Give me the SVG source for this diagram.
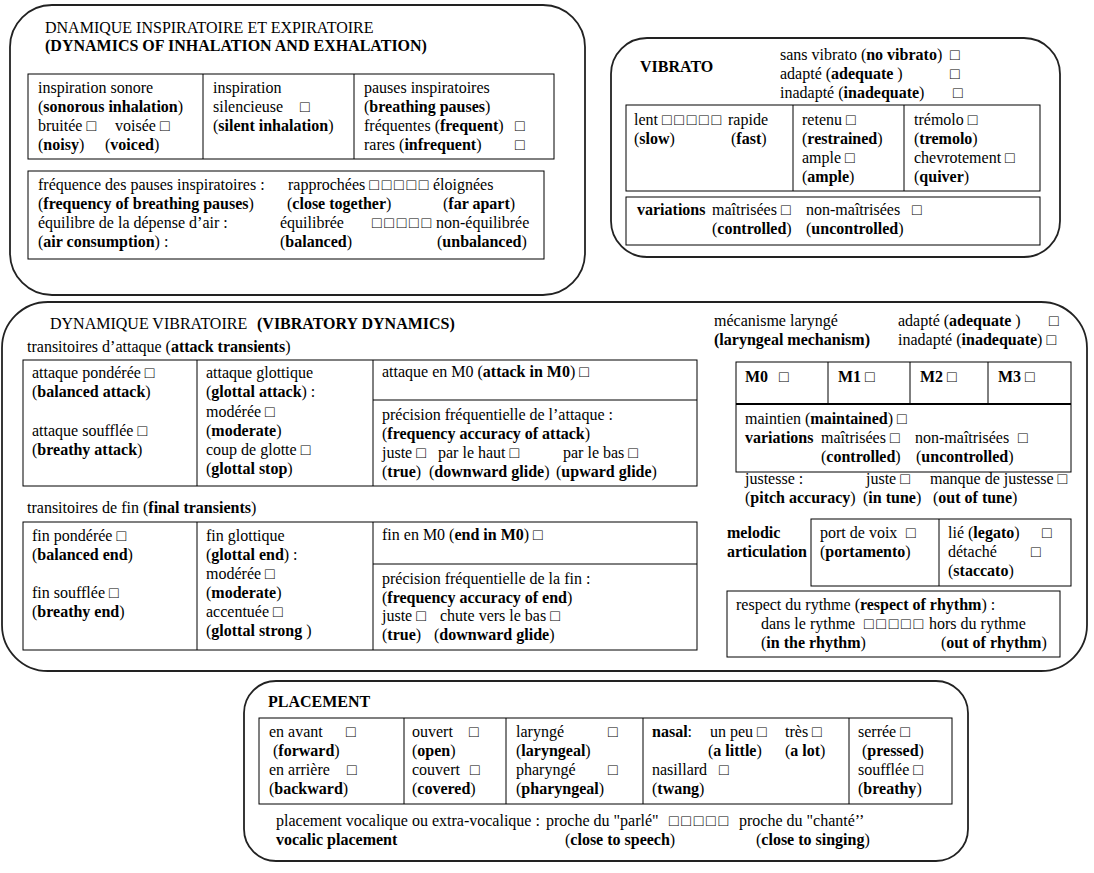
<svg xmlns="http://www.w3.org/2000/svg" width="1094" height="873" viewBox="0 0 1094 873">
<style>
text{font-family:"Liberation Serif","Times New Roman",serif;font-size:16px;fill:#000}
.b{font-weight:bold}
.cb{font-weight:normal;letter-spacing:2.7px}
.panel{fill:#fff;stroke:#222;stroke-width:1.8}
.cell{fill:none;stroke:#000;stroke-width:1}
</style>
<rect width="1094" height="873" fill="#fff"/>

<g id="inhalation">
<rect class="panel" x="10" y="5" width="575" height="290" rx="42" ry="42"/>
<text x="45" y="33">DNAMIQUE INSPIRATOIRE ET EXPIRATOIRE</text>
<text x="45" y="51" class="b">(DYNAMICS OF INHALATION AND EXHALATION)</text>
<rect class="cell" x="28" y="74" width="526" height="85"/>
<line class="cell" x1="203" y1="74" x2="203" y2="159"/>
<line class="cell" x1="354" y1="74" x2="354" y2="159"/>
<text x="38" y="93">inspiration sonore</text>
<text x="38" y="112">(<tspan class="b">sonorous inhalation</tspan>)</text>
<text x="38" y="131">bruitée <tspan class="cb">□</tspan><tspan x="115">voisée </tspan><tspan class="cb">□</tspan></text>
<text x="38" y="150">(<tspan class="b">noisy</tspan>)<tspan x="105">(</tspan><tspan class="b">voiced</tspan>)</text>
<text x="213" y="93">inspiration</text>
<text x="213" y="112">silencieuse<tspan class="cb" x="300">□</tspan></text>
<text x="213" y="131">(<tspan class="b">silent inhalation</tspan>)</text>
<text x="364" y="93">pauses inspiratoires</text>
<text x="364" y="112">(<tspan class="b">breathing pauses</tspan>)</text>
<text x="364" y="131">fréquentes (<tspan class="b">frequent</tspan>)<tspan class="cb" x="515">□</tspan></text>
<text x="364" y="150">rares (<tspan class="b">infrequent</tspan>)<tspan class="cb" x="515">□</tspan></text>
<rect class="cell" x="28" y="171" width="516" height="88"/>
<text x="38" y="190">fréquence des pauses inspiratoires :</text>
<text x="288" y="190">rapprochées <tspan class="cb">□□□□□</tspan><tspan x="433">éloignées</tspan></text>
<text x="38" y="209">(<tspan class="b">frequency of breathing pauses</tspan>)</text>
<text x="287" y="209">(<tspan class="b">close together</tspan>)</text>
<text x="443" y="209">(<tspan class="b">far apart</tspan>)</text>
<text x="38" y="228">équilibre de la dépense d’air :</text>
<text x="280" y="228">équilibrée<tspan class="cb" x="372">□□□□□</tspan><tspan x="436">non-équilibrée</tspan></text>
<text x="38" y="247">(<tspan class="b">air consumption</tspan>) :</text>
<text x="280" y="247">(<tspan class="b">balanced</tspan>)</text>
<text x="437" y="247">(<tspan class="b">unbalanced</tspan>)</text>
</g>

<g id="vibrato">
<rect class="panel" x="611" y="38" width="449" height="219" rx="36" ry="36"/>
<text x="640" y="72" class="b">VIBRATO</text>
<text x="780" y="60">sans vibrato (<tspan class="b">no vibrato</tspan>)<tspan class="cb" x="950">□</tspan></text>
<text x="780" y="79">adapté (<tspan class="b">adequate </tspan>)<tspan class="cb" x="950">□</tspan></text>
<text x="780" y="98">inadapté (<tspan class="b">inadequate</tspan>)<tspan class="cb" x="953">□</tspan></text>
<rect class="cell" x="626" y="105" width="414" height="86"/>
<line class="cell" x1="793" y1="105" x2="793" y2="191"/>
<line class="cell" x1="904" y1="105" x2="904" y2="191"/>
<text x="634" y="125">lent <tspan class="cb">□□□□□</tspan><tspan x="728">rapide</tspan></text>
<text x="634" y="144">(<tspan class="b">slow</tspan>)<tspan x="731">(</tspan><tspan class="b">fast</tspan>)</text>
<text x="802" y="125">retenu <tspan class="cb">□</tspan></text>
<text x="802" y="144">(<tspan class="b">restrained</tspan>)</text>
<text x="802" y="163">ample <tspan class="cb">□</tspan></text>
<text x="802" y="182">(<tspan class="b">ample</tspan>)</text>
<text x="914" y="125">trémolo <tspan class="cb">□</tspan></text>
<text x="914" y="144">(<tspan class="b">tremolo</tspan>)</text>
<text x="914" y="163">chevrotement <tspan class="cb">□</tspan></text>
<text x="914" y="182">(<tspan class="b">quiver</tspan>)</text>
<rect class="cell" x="626" y="197" width="414" height="48"/>
<text x="637" y="215"><tspan class="b">variations</tspan><tspan x="712">maîtrisées </tspan><tspan class="cb">□</tspan><tspan x="806">non-maîtrisées</tspan><tspan class="cb" x="912">□</tspan></text>
<text x="712" y="234">(<tspan class="b">controlled</tspan>)<tspan x="806">(</tspan><tspan class="b">uncontrolled</tspan>)</text>
</g>

<g id="vibratory">
<rect class="panel" x="2" y="302" width="1085" height="369" rx="46" ry="46"/>
<text x="50" y="329">DYNAMIQUE VIBRATOIRE<tspan x="257" class="b">(VIBRATORY DYNAMICS)</tspan></text>
<text x="27" y="352">transitoires d’attaque (<tspan class="b">attack transients</tspan>)</text>
<rect class="cell" x="23" y="360" width="674" height="126"/>
<line class="cell" x1="197" y1="360" x2="197" y2="486"/>
<line class="cell" x1="373" y1="360" x2="373" y2="486"/>
<line class="cell" x1="373" y1="400" x2="697" y2="400"/>
<text x="32" y="378">attaque pondérée <tspan class="cb">□</tspan></text>
<text x="32" y="397">(<tspan class="b">balanced attack</tspan>)</text>
<text x="32" y="436">attaque soufflée <tspan class="cb">□</tspan></text>
<text x="32" y="455">(<tspan class="b">breathy attack</tspan>)</text>
<text x="206" y="378">attaque glottique</text>
<text x="206" y="397">(<tspan class="b">glottal attack</tspan>) :</text>
<text x="206" y="417">modérée <tspan class="cb">□</tspan></text>
<text x="206" y="436">(<tspan class="b">moderate</tspan>)</text>
<text x="206" y="455">coup de glotte <tspan class="cb">□</tspan></text>
<text x="206" y="474">(<tspan class="b">glottal stop</tspan>)</text>
<text x="382" y="377">attaque en M0 (<tspan class="b">attack in M0</tspan>) <tspan class="cb">□</tspan></text>
<text x="382" y="420">précision fréquentielle de l’attaque :</text>
<text x="382" y="439">(<tspan class="b">frequency accuracy of attack</tspan>)</text>
<text x="382" y="458">juste <tspan class="cb">□</tspan><tspan x="438">par le haut </tspan><tspan class="cb">□</tspan><tspan x="563">par le bas </tspan><tspan class="cb">□</tspan></text>
<text x="382" y="477">(<tspan class="b">true</tspan>)<tspan x="429">(</tspan><tspan class="b">downward glide</tspan>)<tspan x="556">(</tspan><tspan class="b">upward glide</tspan>)</text>

<text x="27" y="513">transitoires de fin (<tspan class="b">final transients</tspan>)</text>
<rect class="cell" x="23" y="522" width="674" height="128"/>
<line class="cell" x1="197" y1="522" x2="197" y2="650"/>
<line class="cell" x1="373" y1="522" x2="373" y2="650"/>
<line class="cell" x1="373" y1="564" x2="697" y2="564"/>
<text x="32" y="541">fin pondérée <tspan class="cb">□</tspan></text>
<text x="32" y="560">(<tspan class="b">balanced end</tspan>)</text>
<text x="32" y="598">fin soufflée <tspan class="cb">□</tspan></text>
<text x="32" y="617">(<tspan class="b">breathy end</tspan>)</text>
<text x="206" y="541">fin glottique</text>
<text x="206" y="560">(<tspan class="b">glottal end</tspan>) :</text>
<text x="206" y="579">modérée <tspan class="cb">□</tspan></text>
<text x="206" y="598">(<tspan class="b">moderate</tspan>)</text>
<text x="206" y="617">accentuée <tspan class="cb">□</tspan></text>
<text x="206" y="636">(<tspan class="b">glottal strong </tspan>)</text>
<text x="382" y="540">fin en M0 (<tspan class="b">end in M0</tspan>) <tspan class="cb">□</tspan></text>
<text x="382" y="584">précision fréquentielle de la fin :</text>
<text x="382" y="603">(<tspan class="b">frequency accuracy of end</tspan>)</text>
<text x="382" y="621">juste <tspan class="cb">□</tspan><tspan x="440">chute vers le bas </tspan><tspan class="cb">□</tspan></text>
<text x="382" y="640">(<tspan class="b">true</tspan>)<tspan x="434">(</tspan><tspan class="b">downward glide</tspan>)</text>

<text x="714" y="326">mécanisme laryngé</text>
<text x="714" y="345" class="b">(laryngeal mechanism)</text>
<text x="898" y="326">adapté (<tspan class="b">adequate </tspan>)<tspan class="cb" x="1049">□</tspan></text>
<text x="898" y="345">inadapté (<tspan class="b">inadequate</tspan>) <tspan class="cb">□</tspan></text>
<rect class="cell" x="736" y="362" width="335" height="110"/>
<line class="cell" x1="828" y1="362" x2="828" y2="404"/>
<line class="cell" x1="910" y1="362" x2="910" y2="404"/>
<line class="cell" x1="988" y1="362" x2="988" y2="404"/>
<line x1="736" y1="404" x2="1071" y2="404" stroke="#000" stroke-width="2"/>
<text y="382" class="b"><tspan x="745">M0</tspan><tspan class="cb" x="779">□</tspan><tspan x="838">M1 </tspan><tspan class="cb">□</tspan><tspan x="920">M2 </tspan><tspan class="cb">□</tspan><tspan x="998">M3 </tspan><tspan class="cb">□</tspan></text>
<text x="745" y="424">maintien (<tspan class="b">maintained</tspan>) <tspan class="cb">□</tspan></text>
<text x="745" y="443"><tspan class="b">variations</tspan><tspan x="821">maîtrisées </tspan><tspan class="cb">□</tspan><tspan x="915">non-maîtrisées</tspan><tspan class="cb" x="1018">□</tspan></text>
<text x="821" y="462">(<tspan class="b">controlled</tspan>)<tspan x="916">(</tspan><tspan class="b">uncontrolled</tspan>)</text>
<text x="745" y="484">justesse :<tspan x="866">juste </tspan><tspan class="cb">□</tspan><tspan x="930">manque de justesse </tspan><tspan class="cb">□</tspan></text>
<text x="745" y="503">(<tspan class="b">pitch accuracy</tspan>)<tspan x="863">(</tspan><tspan class="b">in tune</tspan>)<tspan x="933">(</tspan><tspan class="b">out of tune</tspan>)</text>
<text x="727" y="538" class="b">melodic</text>
<text x="727" y="557" class="b">articulation</text>
<rect class="cell" x="811" y="519" width="260" height="67"/>
<line class="cell" x1="939" y1="519" x2="939" y2="586"/>
<text x="820" y="538">port de voix<tspan class="cb" x="906">□</tspan></text>
<text x="820" y="557">(<tspan class="b">portamento</tspan>)</text>
<text x="948" y="538">lié (<tspan class="b">legato</tspan>)<tspan class="cb" x="1042">□</tspan></text>
<text x="948" y="557">détaché<tspan class="cb" x="1031">□</tspan></text>
<text x="948" y="576">(<tspan class="b">staccato</tspan>)</text>
<rect class="cell" x="727" y="591" width="333" height="66"/>
<text x="736" y="610">respect du rythme (<tspan class="b">respect of rhythm</tspan>) :</text>
<text x="761" y="629">dans le rythme<tspan class="cb" x="864">□□□□□</tspan><tspan x="929">hors du rythme</tspan></text>
<text x="761" y="648">(<tspan class="b">in the rhythm</tspan>)<tspan x="941">(</tspan><tspan class="b">out of rhythm</tspan>)</text>
</g>

<g id="placement">
<rect class="panel" x="244" y="681" width="724" height="180" rx="32" ry="32"/>
<text x="268" y="707" class="b">PLACEMENT</text>
<rect class="cell" x="259" y="718" width="693" height="86"/>
<line class="cell" x1="404" y1="718" x2="404" y2="804"/>
<line class="cell" x1="506" y1="718" x2="506" y2="804"/>
<line class="cell" x1="643" y1="718" x2="643" y2="804"/>
<line class="cell" x1="849" y1="718" x2="849" y2="804"/>
<text x="269" y="737">en avant<tspan class="cb" x="346">□</tspan></text>
<text x="273" y="756">(<tspan class="b">forward</tspan>)</text>
<text x="269" y="775">en arrière<tspan class="cb" x="347">□</tspan></text>
<text x="269" y="794">(<tspan class="b">backward</tspan>)</text>
<text x="412" y="737">ouvert<tspan class="cb" x="469">□</tspan></text>
<text x="412" y="756">(<tspan class="b">open</tspan>)</text>
<text x="412" y="775">couvert<tspan class="cb" x="470">□</tspan></text>
<text x="412" y="794">(<tspan class="b">covered</tspan>)</text>
<text x="516" y="737">laryngé<tspan class="cb" x="608">□</tspan></text>
<text x="516" y="756">(<tspan class="b">laryngeal</tspan>)</text>
<text x="516" y="775">pharyngé<tspan class="cb" x="608">□</tspan></text>
<text x="516" y="794">(<tspan class="b">pharyngeal</tspan>)</text>
<text x="652" y="737"><tspan class="b">nasal</tspan>:<tspan x="710">un peu </tspan><tspan class="cb">□</tspan><tspan x="785">très </tspan><tspan class="cb">□</tspan></text>
<text x="708" y="756">(<tspan class="b">a little</tspan>)<tspan x="785">(</tspan><tspan class="b">a lot</tspan>)</text>
<text x="652" y="775">nasillard<tspan class="cb" x="719">□</tspan></text>
<text x="652" y="794">(<tspan class="b">twang</tspan>)</text>
<text x="858" y="737">serrée <tspan class="cb">□</tspan></text>
<text x="862" y="756">(<tspan class="b">pressed</tspan>)</text>
<text x="858" y="775">soufflée <tspan class="cb">□</tspan></text>
<text x="858" y="794">(<tspan class="b">breathy</tspan>)</text>
<text x="276" y="826">placement vocalique ou extra-vocalique :<tspan x="546">proche du "parlé"</tspan><tspan class="cb" x="669">□□□□□</tspan><tspan x="739">proche du "chanté’’</tspan></text>
<text x="276" y="845"><tspan class="b">vocalic placement</tspan><tspan x="565">(</tspan><tspan class="b">close to speech</tspan>)<tspan x="756">(</tspan><tspan class="b">close to singing</tspan>)</text>
</g>
</svg>
